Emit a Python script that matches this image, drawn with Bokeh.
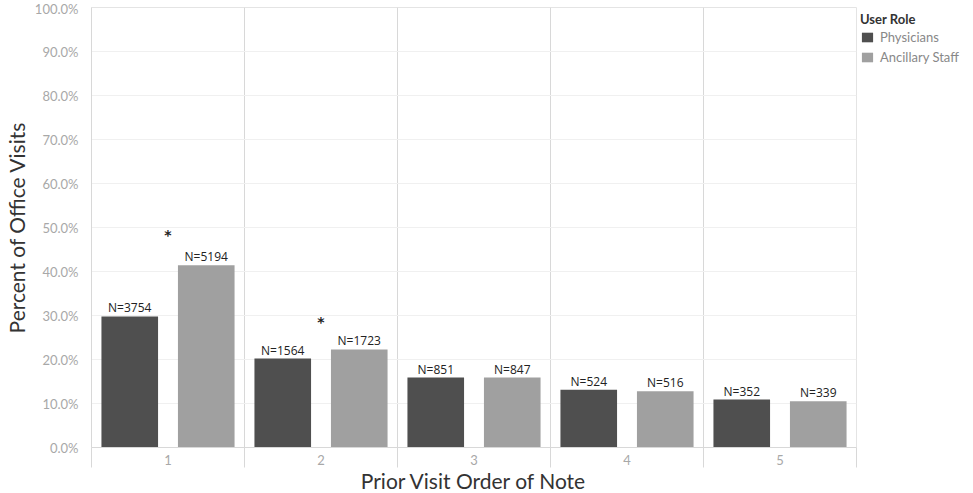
from bokeh.plotting import figure
from bokeh.models import (ColumnDataSource, Range1d, FixedTicker, Legend, LegendItem,
                          NumeralTickFormatter)
from bokeh.core.properties import value
from bokeh.embed import file_html
from bokeh.resources import INLINE

# ---- data ----
orders = [1, 2, 3, 4, 5]
order_labels = ["1", "2", "3", "4", "5"]
physicians = [0.298, 0.202, 0.159, 0.131, 0.109]
ancillary = [0.414, 0.223, 0.159, 0.128, 0.105]
phys_n = ["N=3754", "N=1564", "N=851", "N=524", "N=352"]
anc_n = ["N=5194", "N=1723", "N=847", "N=516", "N=339"]
star_orders = [1, 2]
star_y = [0.484, 0.285]
y_ticks = [0.0, 0.1, 0.2, 0.3, 0.4, 0.5, 0.6, 0.7, 0.8, 0.9, 1.0]

PHYS_COLOR = "#4f4f4f"
ANC_COLOR = "#a0a0a0"
FONT = "Lato"

p = figure(frame_width=765, frame_height=440, output_backend="svg",
           toolbar_location=None, x_range=Range1d(0.5, 5.5), y_range=Range1d(0, 1.0),
           min_border_left=83, min_border_top=7, min_border_bottom=5,
           min_border_right=5)
p.outline_line_color = "#e4e4e4"
p.background_fill_color = "white"

src_p = ColumnDataSource(dict(x=[o - 0.25 for o in orders], top=physicians, lab=phys_n))
src_a = ColumnDataSource(dict(x=[o + 0.25 for o in orders], top=ancillary, lab=anc_n))

rp = p.vbar(x="x", top="top", width=0.37, source=src_p, fill_color=PHYS_COLOR,
            line_color=None)
ra = p.vbar(x="x", top="top", width=0.37, source=src_a, fill_color=ANC_COLOR,
            line_color=None)

for src in (src_p, src_a):
    p.text(x="x", y="top", text="lab", source=src, text_align="center",
           text_baseline="bottom", y_offset=0, text_font=value("Open Sans"),
           text_font_size="12px", text_color="#222222")

p.text(x=star_orders, y=star_y, text=["*", "*"], text_align="center",
       text_baseline="middle", text_font=value("DejaVu Sans"), text_font_size="14px",
       text_color="#222222", text_font_style="bold")

# x axis
xa = p.xaxis[0]
xa.ticker = FixedTicker(ticks=orders, minor_ticks=[0.5, 1.5, 2.5, 3.5, 4.5, 5.5])
xa.major_label_overrides = {o: l for o, l in zip(orders, order_labels)}
xa.major_tick_line_color = None
xa.major_tick_out = 0
xa.major_tick_in = 0
xa.minor_tick_line_color = "#d8d8d8"
xa.minor_tick_out = 20
xa.minor_tick_in = 0
xa.axis_line_color = "#d8d8d8"
xa.major_label_text_color = "#a8a8a8"
xa.major_label_text_font = FONT
xa.major_label_text_font_size = "13px"
xa.major_label_standoff = -13
xa.axis_label = "Prior Visit Order of Note"
xa.axis_label_text_font = FONT
xa.axis_label_text_font_size = "21px"
xa.axis_label_text_font_style = "normal"
xa.axis_label_text_color = "#333333"
xa.axis_label_standoff = 0

# y axis
ya = p.yaxis[0]
ya.ticker = FixedTicker(ticks=y_ticks)
ya.formatter = NumeralTickFormatter(format="0.0%")
ya.major_tick_line_color = None
ya.minor_tick_line_color = None
ya.axis_line_color = "#d8d8d8"
ya.major_label_text_color = "#a8a8a8"
ya.major_label_text_font = FONT
ya.major_label_text_font_size = "13px"
ya.major_label_standoff = 7
ya.axis_label = "Percent of Office Visits"
ya.axis_label_text_font = FONT
ya.axis_label_text_font_size = "21px"
ya.axis_label_text_font_style = "normal"
ya.axis_label_text_color = "#333333"
ya.axis_label_standoff = 3

# grids
p.ygrid.ticker = FixedTicker(ticks=y_ticks)
p.ygrid.grid_line_color = "#f0f0f0"
p.xgrid.grid_line_color = None
p.xgrid.ticker = FixedTicker(ticks=orders, minor_ticks=[1.5, 2.5, 3.5, 4.5])
p.xgrid.minor_grid_line_color = "#d8d8d8"

legend = Legend(items=[LegendItem(label="Physicians", renderers=[rp]),
                       LegendItem(label="Ancillary Staff", renderers=[ra])],
                title="User Role", location="top_left")
legend.title_text_font = FONT
legend.title_text_font_size = "13px"
legend.title_text_font_style = "bold"
legend.title_text_color = "#333333"
legend.title_standoff = 2
legend.label_text_font = FONT
legend.label_text_font_size = "13px"
legend.label_text_color = "#888888"
legend.glyph_width = 14
legend.glyph_height = 12
legend.label_height = 12
legend.label_standoff = 6
legend.spacing = 4
legend.padding = 0
legend.margin = 4
legend.border_line_color = None
legend.background_fill_alpha = 0
p.add_layout(legend, "right")

open("out.html", "w").write(file_html(p, INLINE))
